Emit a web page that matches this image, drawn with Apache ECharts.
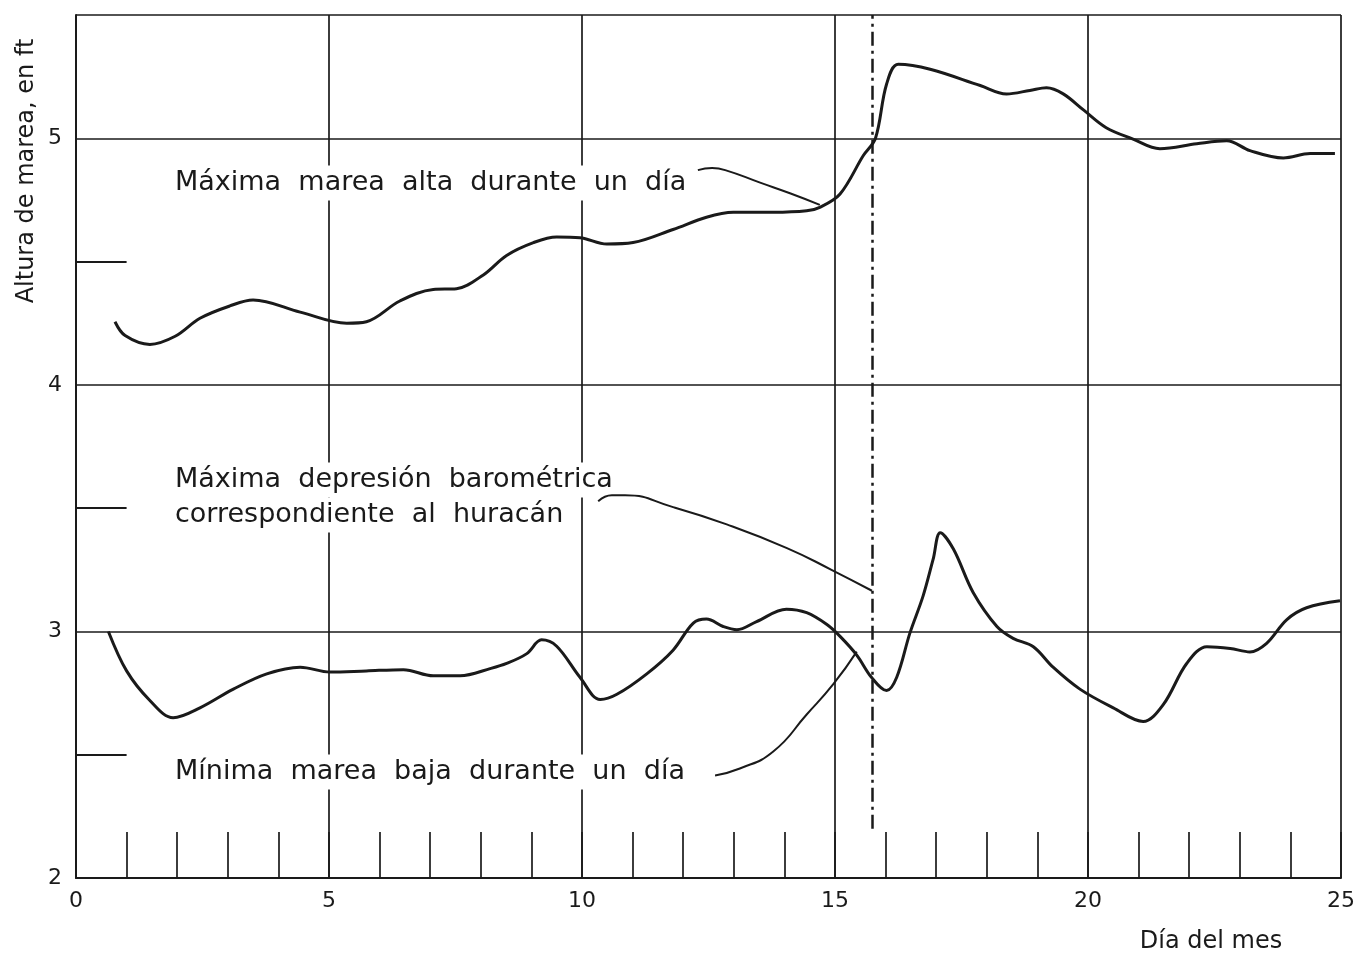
<!DOCTYPE html>
<html><head><meta charset="utf-8">
<script src="https://cdn.jsdelivr.net/npm/echarts@6/dist/echarts.min.js"></script>
<style>html,body{margin:0;padding:0;background:#fff}#c{width:1358px;height:961px}</style>
</head><body><div id="c"></div>
<script>
// ---- data ----
const highTideDays = [0.77,0.97,1.46,1.96,2.45,3.04,3.5,4.43,5.35,5.74,6.4,7.06,7.52,8.05,8.51,9.04,9.5,9.96,10.49,11.01,11.8,12.46,12.99,13.78,14.44,14.7,15.1,15.56,15.8,16.02,16.25,16.88,17.87,18.39,18.85,19.18,19.51,19.91,20.36,20.89,21.42,22.15,22.74,23.2,23.86,24.39,24.88];
const highTideFt   = [4.256,4.20,4.164,4.197,4.27,4.32,4.344,4.295,4.25,4.256,4.34,4.387,4.39,4.446,4.525,4.577,4.60,4.597,4.571,4.577,4.63,4.68,4.70,4.70,4.706,4.72,4.774,4.93,5.0,5.22,5.30,5.28,5.214,5.18,5.194,5.205,5.18,5.115,5.043,4.997,4.958,4.978,4.99,4.95,4.92,4.938,4.938];
const lowTideDays = [0.64,1.0,1.46,1.92,2.45,3.11,3.77,4.43,5.02,5.74,6.47,7.06,7.59,8.2,8.51,8.91,9.2,9.5,9.96,10.36,10.69,11.28,11.8,12.2,12.46,12.79,13.06,13.45,14.04,14.44,14.84,15.1,15.43,15.72,16.02,16.22,16.48,16.74,16.94,17.08,17.34,17.73,18.2,18.52,18.92,19.31,19.84,20.5,21.09,21.49,21.95,22.35,22.81,23.2,23.53,23.93,24.32,24.98];
const lowTideFt   = [3.0,2.84,2.72,2.65,2.69,2.766,2.828,2.855,2.835,2.84,2.845,2.82,2.82,2.85,2.87,2.91,2.966,2.94,2.814,2.724,2.745,2.828,2.924,3.034,3.05,3.02,3.007,3.04,3.09,3.076,3.028,2.98,2.904,2.814,2.76,2.814,2.993,3.143,3.293,3.40,3.334,3.158,3.02,2.972,2.938,2.855,2.766,2.69,2.635,2.704,2.87,2.938,2.931,2.917,2.952,3.048,3.096,3.124];
const pressureMinDay = 15.74;
const pressureLineFt = [2.2, 5.5];
const halfFootMarks = [2.5, 3.5, 4.5];
const halfFootMarkDays = [0, 1];
const xTickLabels = ['0','5','10','15','20','25'];
const yTickLabels = ['2','3','4','5'];

// leader lines for the annotations (day, ft)
const leaderHighDays = [12.29,12.57,12.83,13.52,14.11,14.7];
const leaderHighFt   = [4.871,4.879,4.871,4.82,4.777,4.73];
const leaderPressDays = [10.32,10.59,10.85,11.8,12.86,14.05,14.93,15.73];
const leaderPressFt   = [3.528,3.552,3.552,3.504,3.434,3.338,3.25,3.165];
const leaderLowDays = [12.63,13.12,13.78,14.44,14.97,15.43];
const leaderLowFt   = [2.416,2.444,2.513,2.663,2.787,2.918];

const labelHigh = 'Máxima  marea  alta  durante  un  día';
const labelPress1 = 'Máxima  depresión  barométrica';
const labelPress2 = 'correspondiente  al  huracán';
const labelLow = 'Mínima  marea  baja  durante  un  día';
const yName = 'Altura de marea, en ft';
const xName = 'Día del mes';

const zip = (a, b) => a.map((v, i) => [v, b[i]]);
const ink = '#1a1a1a';
const FONT = '"DejaVu Sans", sans-serif';
const noteStyle = (text) => ({ text, font: '27px ' + FONT, fill: ink, verticalAlign: 'middle',
  backgroundColor: '#fff', padding: [4, 3] });

const chart = echarts.init(document.getElementById('c'));
chart.setOption({
  animation: false,
  backgroundColor: '#fff',
  grid: { left: 76, right: 17, top: 15, bottom: 83, show: false },
  xAxis: [{
    type: 'value', min: 0, max: 25, interval: 5,
    axisLine: { show: true, lineStyle: { color: ink, width: 2 } },
    axisTick: { show: false },
    splitLine: { show: true, lineStyle: { color: ink, width: 1.7 } },
    axisLabel: { color: ink, fontSize: 22, fontFamily: FONT, margin: 12,
      formatter: v => xTickLabels[xTickLabels.indexOf(String(v))] || '' }
  }, {
    type: 'value', min: 0, max: 25, interval: 1, position: 'bottom',
    axisLine: { show: false },
    axisTick: { show: true, inside: true, length: 46, lineStyle: { color: ink, width: 1.7 } },
    splitLine: { show: false },
    axisLabel: { show: false }
  }],
  yAxis: {
    type: 'value', min: 2, max: 5.5, interval: 1,
    axisLine: { show: true, lineStyle: { color: ink, width: 2 } },
    axisTick: { show: false },
    splitLine: { show: true, lineStyle: { color: ink, width: 1.7 } },
    axisLabel: { color: ink, fontSize: 22, fontFamily: FONT, margin: 14,
      formatter: v => yTickLabels.indexOf(String(v)) >= 0 ? String(v) : '' }
  },
  series: [
    { type: 'line', name: 'Máxima marea alta', data: zip(highTideDays, highTideFt), smooth: 0.35,
      symbol: 'none', lineStyle: { color: ink, width: 3 }, silent: true, z: 5 },
    { type: 'line', name: 'Mínima marea baja', data: zip(lowTideDays, lowTideFt), smooth: 0.35,
      symbol: 'none', lineStyle: { color: ink, width: 3 }, silent: true, z: 5 },
    { type: 'line', data: zip(leaderHighDays, leaderHighFt), smooth: 0.5, symbol: 'none',
      lineStyle: { color: ink, width: 2 }, silent: true, z: 5 },
    { type: 'line', data: zip(leaderPressDays, leaderPressFt), smooth: 0.5, symbol: 'none',
      lineStyle: { color: ink, width: 2 }, silent: true, z: 5 },
    { type: 'line', data: zip(leaderLowDays, leaderLowFt), smooth: 0.5, symbol: 'none',
      lineStyle: { color: ink, width: 2 }, silent: true, z: 5 },
    { type: 'line', data: [], silent: true, z: 5,
      markLine: {
        silent: true, symbol: 'none', animation: false, label: { show: false },
        data: [
          [{ coord: [pressureMinDay, pressureLineFt[0]], lineStyle: { color: ink, width: 2.5, type: [14, 5, 3, 5] } },
           { coord: [pressureMinDay, pressureLineFt[1]] }],
          ...halfFootMarks.map(v => [
            { coord: [halfFootMarkDays[0], v], lineStyle: { color: ink, width: 1.8, type: 'solid' } },
            { coord: [halfFootMarkDays[1], v] }])
        ]
      } }
  ],
  graphic: [
    { type: 'text', x: 172, y: 183, silent: true, z: 1, style: noteStyle(labelHigh) },
    { type: 'text', x: 172, y: 480, silent: true, z: 1, style: noteStyle(labelPress1) },
    { type: 'text', x: 172, y: 515, silent: true, z: 1, style: noteStyle(labelPress2) },
    { type: 'text', x: 172, y: 772, silent: true, z: 1, style: noteStyle(labelLow) },
    { type: 'text', x: 27, y: 171, rotation: Math.PI / 2, silent: true,
      style: { text: yName, font: '24px ' + FONT, fill: ink, align: 'center', verticalAlign: 'middle' } },
    { type: 'text', x: 1211, y: 942, silent: true,
      style: { text: xName, font: '24px ' + FONT, fill: ink, align: 'center', verticalAlign: 'middle' } }
  ]
});
</script></body></html>
